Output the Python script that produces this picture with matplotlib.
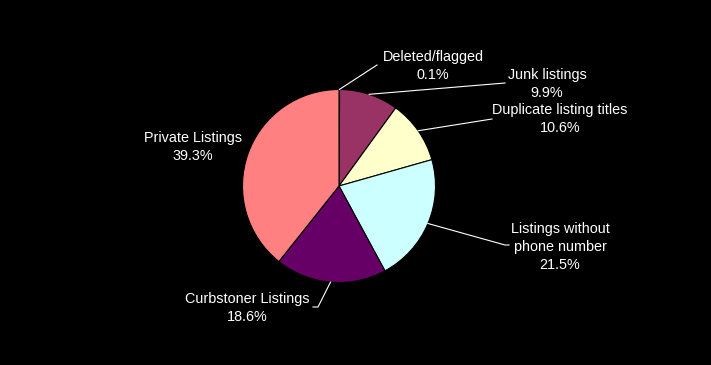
import matplotlib
matplotlib.use("Agg")
import matplotlib.pyplot as plt
import numpy as np

categories = ["Deleted/flagged", "Junk listings", "Duplicate listing titles",
              "Listings without\nphone number", "Curbstoner Listings", "Private Listings"]
values = [0.1, 9.9, 10.6, 21.5, 18.6, 39.3]
colors = ["#9999FF", "#993366", "#FFFFCC", "#CCFFFF", "#660066", "#FF8080"]

W, H = 711, 365
fig = plt.figure(figsize=(W / 100, H / 100), dpi=100, facecolor="black")
ax = fig.add_axes([0, 0, 1, 1])
ax.set_facecolor("black")

cx, cy, r = 339, H - 186, 96.5
wedges, _ = ax.pie(values, colors=colors, startangle=90, counterclock=False,
                   center=(cx, cy), radius=r, frame=True,
                   wedgeprops=dict(edgecolor="black", linewidth=0.8))
ax.set_xlim(0, W)
ax.set_ylim(0, H)
ax.set_aspect("auto")
ax.axis("off")

# label text centres (pixel coords, y from top) and leader line bends
label_pos = [(433, 66), (547, 84), (560, 119), (560, 247), (247, 308), (193, 147)]
leaders = [
    [(377, 65)],
    [(505, 83)],
    [(492, 119)],
    [(505, 245), (509, 245)],
    [(318, 307), (313, 307)],
    None,
]

font = dict(family=["Liberation Sans", "DejaVu Sans"], size=10.4, color="white")
for w, cat, v, (lx, ly), ld in zip(wedges, categories, values, label_pos, leaders):
    ax.text(lx, H - ly, f"{cat}\n{v:.1f}%", ha="center", va="center",
            linespacing=1.4, **font)
    if ld is None:
        continue
    ang = np.deg2rad((w.theta1 + w.theta2) / 2)
    sx, sy = cx + r * np.cos(ang), cy + r * np.sin(ang)
    xs = [sx] + [p[0] for p in ld]
    ys = [sy] + [H - p[1] for p in ld]
    ax.plot(xs, ys, color="white", linewidth=0.8)

fig.savefig("out.png", dpi=100, facecolor="black")
